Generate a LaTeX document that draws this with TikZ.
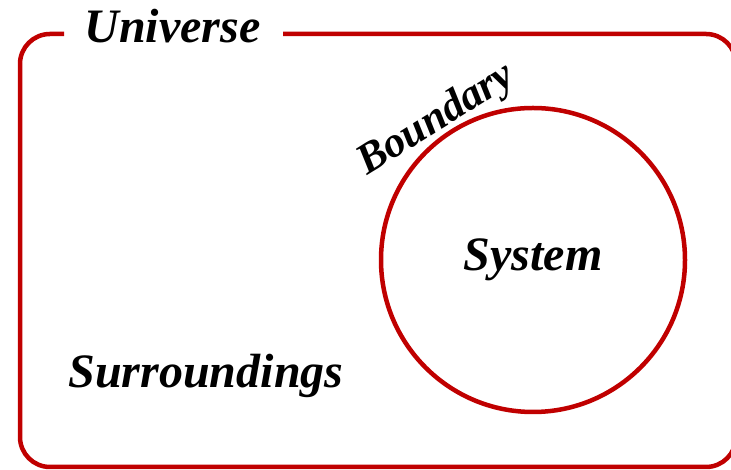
\documentclass[tikz,border=0pt]{standalone}
\usepackage{fontspec}
\setmainfont{Liberation Serif}
\definecolor{bordred}{RGB}{192,0,0}
\tikzset{
  frame/.style={draw=bordred, line width=4.5pt},
  lbl/.style={inner sep=0pt, font=\bfseries\itshape\fontsize{48}{56}\selectfont},
  lblsmall/.style={inner sep=0pt, font=\bfseries\itshape\fontsize{43}{50}\selectfont}
}
\begin{document}
\begin{tikzpicture}[x=1pt,y=1pt]
\useasboundingbox (0,0) rectangle (731,470);
% universe frame with gap for the title
\coordinate (gapL) at (64,436);
\coordinate (gapR) at (283,436);
\draw[frame, rounded corners=30pt] (gapL) -- (20,436) -- (20,3) -- (736,3) -- (736,436) -- (gapR);
\node[lbl, anchor=base] (universe) at (172.5,427) {Universe};
% system
\node[frame, circle, minimum size=304pt, inner sep=0pt, lbl] (system) at (533,210) {System};
\node[lblsmall, anchor=base west, rotate=32] (boundary) at (367,294) {Boundary};
\node[lbl, anchor=base] (surroundings) at (206,82) {Surroundings};
\end{tikzpicture}
\end{document}
